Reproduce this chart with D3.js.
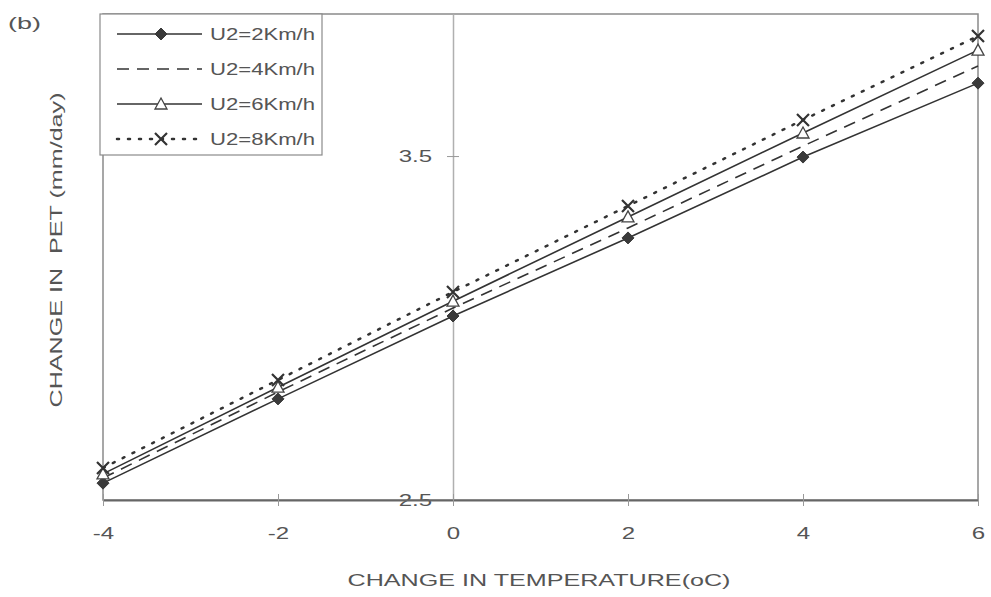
<!DOCTYPE html>
<html><head><meta charset="utf-8">
<script src="https://cdn.jsdelivr.net/npm/d3@7"></script>
<style>body{margin:0;background:#fff}svg{display:block}text{font-family:"Liberation Sans",Arial,sans-serif;fill:#555}</style>
</head><body><svg id="c" width="991" height="597"></svg>
<script>
const temps = [-4, -2, 0, 2, 4, 6];
const xTicks = [-4, -2, 0, 2, 4, 6];
const yTicks = [2.5, 3.5];
const yTickLabels = ["2.5", "3.5"];
const seriesNames = ["U2=2Km/h", "U2=4Km/h", "U2=6Km/h", "U2=8Km/h"];
const u2_2 = [2.549, 2.794, 3.035, 3.262, 3.497, 3.712];
const u2_4 = [2.564, 2.814, 3.058, 3.291, 3.529, 3.762];
const u2_6 = [2.576, 2.828, 3.078, 3.323, 3.567, 3.808];
const u2_8 = [2.593, 2.849, 3.105, 3.355, 3.605, 3.849];

const styles = [
  {dash:null, marker:"diamond"},
  {dash:"12,8", marker:null},
  {dash:null, marker:"triangle"},
  {dash:"2,9", marker:"x"}
];
const series = [u2_2, u2_4, u2_6, u2_8].map((v,i)=>({name:seriesNames[i], values:v, ...styles[i]}));

const svg = d3.select("#c");
const L=103, R=978, T=14, B=500;
const x = d3.scaleLinear().domain([-4,6]).range([L,R]);
const y = d3.scaleLinear().domain([2.5, 3.913]).range([B,T]);
const SX = 1.5; // horizontal stretch of the scanned text

function stretch(sel, k){
  sel.each(function(){
    const len = this.getComputedTextLength();
    d3.select(this).attr("textLength", len*(k||SX)).attr("lengthAdjust","spacingAndGlyphs");
  });
}

// plot border
svg.append("rect").attr("x",L).attr("y",T).attr("width",R-L).attr("height",B-T)
  .attr("fill","none").attr("stroke","#8a8a8a").attr("stroke-width",1.5);

// y axis at x=0
const yAxis = d3.axisLeft(y).tickValues(yTicks).tickFormat((d,i)=>yTickLabels[i]).tickSize(0).tickPadding(21);
const yg = svg.append("g").attr("transform",`translate(${x(0)},0)`).call(yAxis);
yg.select(".domain").attr("stroke","#b0b0b0").attr("stroke-width",1.5);
yg.selectAll(".tick text").style("font-size","16px").attr("fill","#555").attr("font-family","Liberation Sans, Arial, sans-serif");
yg.selectAll(".tick").append("line").attr("x1",-6).attr("x2",6).attr("stroke","#999");
stretch(yg.selectAll(".tick text"));

// x axis at bottom
const xAxis = d3.axisBottom(x).tickValues(xTicks).tickFormat(d3.format("d")).tickSize(0).tickPadding(28);
const xg = svg.append("g").attr("transform",`translate(0,${B})`).call(xAxis);
xg.select(".domain").attr("stroke","#666").attr("stroke-width",2);
xg.selectAll(".tick text").style("font-size","16px").attr("fill","#555").attr("font-family","Liberation Sans, Arial, sans-serif")
  .text(d=> d<0 ? "-"+Math.abs(d) : d);
xg.selectAll(".tick").append("line").attr("y1",-6).attr("y2",6).attr("stroke","#999");
stretch(xg.selectAll(".tick text"));

// lines
const line = d3.line().x((d,i)=>x(temps[i])).y(d=>y(d));
const col = "#333";
function drawMarker(g, type, cx, cy){
  if(type==="diamond"){
    g.append("path").attr("d",`M${cx},${cy-6}L${cx+6},${cy}L${cx},${cy+6}L${cx-6},${cy}Z`).attr("fill","#3a3a3a").attr("stroke","#3a3a3a");
  } else if(type==="triangle"){
    g.append("path").attr("d",`M${cx},${cy-6}L${cx+6},${cy+5}L${cx-6},${cy+5}Z`).attr("fill","#fff").attr("stroke","#444").attr("stroke-width",1.3);
  } else if(type==="x"){
    g.append("path").attr("d",`M${cx-6},${cy-6}L${cx+6},${cy+6}M${cx+6},${cy-6}L${cx-6},${cy+6}`).attr("stroke","#333").attr("stroke-width",2.2);
  }
}
series.forEach(s=>{
  const g = svg.append("g");
  g.append("path").datum(s.values).attr("d",line).attr("fill","none").attr("stroke",col)
    .attr("stroke-width", s.dash==="2,9" ? 2.5 : 1.6).attr("stroke-dasharray", s.dash).attr("stroke-linecap", s.dash==="2,9"?"round":"butt");
  if(s.marker) s.values.forEach((v,i)=>drawMarker(g, s.marker, x(temps[i]), y(v)));
});

// legend
const lg = svg.append("g");
lg.append("rect").attr("x",L-3).attr("y",T).attr("width",222).attr("height",141).attr("fill","#fff").attr("stroke","#8a8a8a").attr("stroke-width",1.2);
series.forEach((s,i)=>{
  const ly = 34 + i*35;
  lg.append("line").attr("x1",117).attr("x2",202).attr("y1",ly).attr("y2",ly).attr("stroke",col)
    .attr("stroke-width", s.dash==="2,9" ? 2.5 : 1.6).attr("stroke-dasharray", s.dash).attr("stroke-linecap", s.dash==="2,9"?"round":"butt");
  if(s.marker) drawMarker(lg, s.marker, 161, ly);
  lg.append("text").attr("x",210).attr("y",ly+6).style("font-size","16px").text(s.name)
    .attr("textLength",105).attr("lengthAdjust","spacingAndGlyphs");
});

// titles
svg.append("text").attr("x",539).attr("y",586).attr("text-anchor","middle").style("font-size","17px")
  .attr("textLength",383).attr("lengthAdjust","spacingAndGlyphs").text("CHANGE IN TEMPERATURE(oC)");
svg.append("text").attr("transform","translate(62,250) rotate(-90)").attr("text-anchor","middle").style("font-size","17px")
  .attr("xml:space","preserve").attr("textLength",315).attr("lengthAdjust","spacingAndGlyphs").text("CHANGE IN  PET (mm/day)");
svg.append("text").attr("x",8).attr("y",29).style("font-size","17px").attr("textLength",33).attr("lengthAdjust","spacingAndGlyphs").text("(b)");
</script></body></html>
